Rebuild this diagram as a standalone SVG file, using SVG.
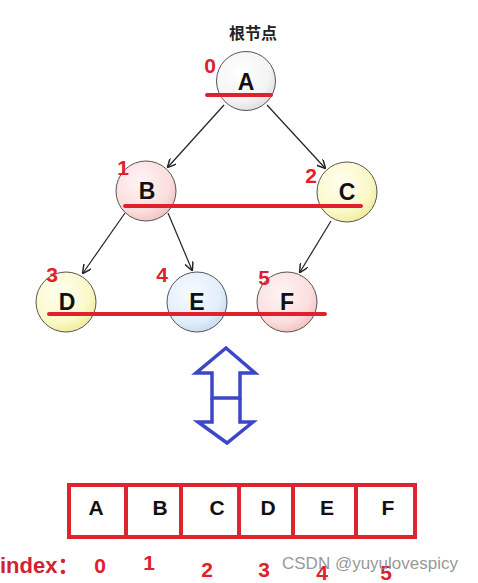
<svg xmlns="http://www.w3.org/2000/svg" width="478" height="583" viewBox="0 0 478 583">
<style>
.lbl{font-family:"Liberation Sans",Arial,sans-serif;font-weight:bold;font-size:21px;fill:#111;text-anchor:middle}
.nl{font-size:23px}
.num{font-family:"Liberation Sans",Arial,sans-serif;font-weight:bold;font-size:21px;fill:#e0202c;text-anchor:middle}
.node{stroke:#555;stroke-width:1}
.edge{stroke:#222;stroke-width:1.2;fill:none;marker-end:url(#ah)}
.red{stroke:#e0202c;stroke-width:4;stroke-linecap:round}
.box{fill:none;stroke:#dd2430;stroke-width:4}
</style>
<defs>
<marker id="ah" viewBox="0 0 10 10" refX="9" refY="5" markerWidth="9" markerHeight="9" orient="auto" markerUnits="userSpaceOnUse">
<path d="M0,0 L10,5 L0,10" fill="none" stroke="#222" stroke-width="1.6"/>
</marker>
<radialGradient id="gW" cx="0.4" cy="0.35" r="0.7"><stop offset="0" stop-color="#ffffff"/><stop offset="0.7" stop-color="#f4f4f4"/><stop offset="1" stop-color="#dcdcdc"/></radialGradient>
<radialGradient id="gP" cx="0.4" cy="0.35" r="0.7"><stop offset="0" stop-color="#fff4f4"/><stop offset="0.7" stop-color="#fbdede"/><stop offset="1" stop-color="#f0c0c0"/></radialGradient>
<radialGradient id="gY" cx="0.4" cy="0.35" r="0.7"><stop offset="0" stop-color="#fffff2"/><stop offset="0.7" stop-color="#fbf8c8"/><stop offset="1" stop-color="#eeea98"/></radialGradient>
<radialGradient id="gB" cx="0.4" cy="0.35" r="0.7"><stop offset="0" stop-color="#f6faff"/><stop offset="0.7" stop-color="#e2eefb"/><stop offset="1" stop-color="#c4d8ef"/></radialGradient>
</defs>
<rect width="478" height="583" fill="#ffffff"/>
<text x="253" y="39" font-family="'Noto Sans CJK SC',sans-serif" font-weight="bold" font-size="16" fill="#222" text-anchor="middle">根节点</text>
<g id="connectors">
<line class="edge" x1="224" y1="105" x2="168" y2="167"/>
<line class="edge" x1="267" y1="105" x2="325" y2="168"/>
<line class="edge" x1="125" y1="213" x2="83" y2="273"/>
<line class="edge" x1="168" y1="213" x2="192" y2="270"/>
<line class="edge" x1="331" y1="221" x2="300" y2="272"/>
</g>
<g id="nodeA"><circle class="node" cx="246" cy="81" r="29.5" fill="url(#gW)"/><text class="lbl nl" x="246" y="90">A</text></g>
<g id="nodeB"><circle class="node" cx="146" cy="191" r="30" fill="url(#gP)"/><text class="lbl nl" x="147" y="199">B</text></g>
<g id="nodeC"><circle class="node" cx="347" cy="192" r="30" fill="url(#gY)"/><text class="lbl nl" x="347" y="200">C</text></g>
<g id="nodeD"><circle class="node" cx="66" cy="302" r="30" fill="url(#gY)"/><text class="lbl nl" x="67" y="310">D</text></g>
<g id="nodeE"><circle class="node" cx="197" cy="302" r="30" fill="url(#gB)"/><text class="lbl nl" x="197" y="310">E</text></g>
<g id="nodeF"><circle class="node" cx="287" cy="302" r="30" fill="url(#gP)"/><text class="lbl nl" x="287" y="310">F</text></g>
<g id="levels">
<line class="red" x1="207" y1="95" x2="271" y2="95"/>
<line class="red" x1="125" y1="206" x2="361" y2="206"/>
<line class="red" x1="49" y1="314" x2="325" y2="314"/>
</g>
<g id="indices">
<text class="num" x="210" y="73">0</text>
<text class="num" x="123" y="175">1</text>
<text class="num" x="311" y="183">2</text>
<text class="num" x="52" y="282">3</text>
<text class="num" x="162" y="282">4</text>
<text class="num" x="264" y="285">5</text>
</g>
<g id="doubleArrow">
<path d="M226,348 L255,373 L240,373 L240,398 L212,398 L212,373 L196,373 Z" fill="none" stroke="#3c46c8" stroke-width="3.5" stroke-linejoin="miter"/>
<path d="M212,398 L212,422 L198,422 L227,443 L253,422 L240,422 L240,398" fill="none" stroke="#3c46c8" stroke-width="3.5" stroke-linejoin="miter"/>
</g>
<g id="array">
<rect class="box" x="69" y="485" width="346" height="52"/>
<line class="box" x1="126" y1="485" x2="126" y2="537"/>
<line class="box" x1="181" y1="485" x2="181" y2="537"/>
<line class="box" x1="239" y1="485" x2="239" y2="537"/>
<line class="box" x1="293" y1="485" x2="293" y2="537"/>
<line class="box" x1="356" y1="485" x2="356" y2="537"/>
<text class="lbl" x="96" y="515">A</text>
<text class="lbl" x="160" y="515">B</text>
<text class="lbl" x="217" y="515">C</text>
<text class="lbl" x="268" y="515">D</text>
<text class="lbl" x="327" y="515">E</text>
<text class="lbl" x="388" y="515">F</text>
</g>
<g id="indexRow">
<text x="0" y="573" font-family="'Liberation Sans','Noto Sans CJK SC',sans-serif" font-weight="bold" font-size="22" fill="#d42030">index：</text>
<text class="num" x="100" y="573">0</text>
<text class="num" x="149" y="570">1</text>
<text class="num" x="207" y="577">2</text>
<text class="num" x="264" y="577">3</text>
<text class="num" x="322" y="580">4</text>
<text class="num" x="386" y="580">5</text>
</g>
<text x="282" y="569" font-family="'Liberation Sans',Arial,sans-serif" font-size="17" fill="#8a8a8a" fill-opacity="0.9">CSDN @yuyulovespicy</text>
</svg>
